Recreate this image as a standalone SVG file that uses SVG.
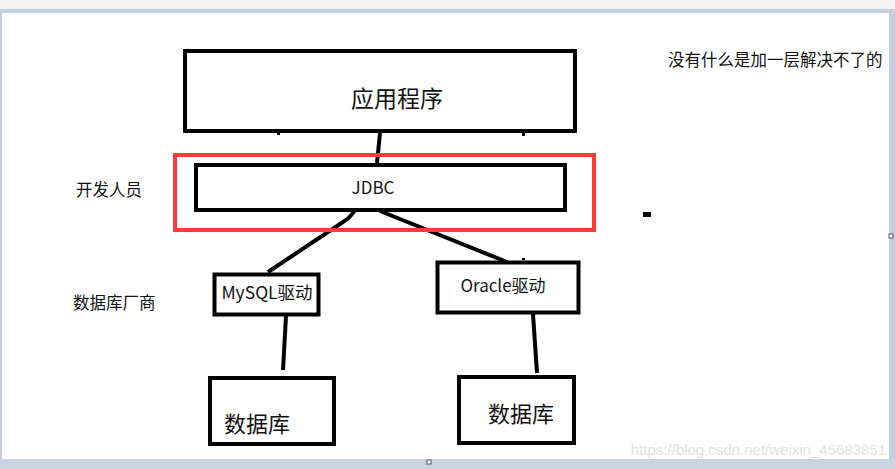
<svg xmlns="http://www.w3.org/2000/svg" width="895" height="469" viewBox="0 0 895 469">
<style>
.box{fill:#fff;stroke:#000;stroke-width:4}
.ln{fill:none;stroke:#000;stroke-width:4;stroke-linecap:butt}
.t{font-family:"Noto Sans CJK SC","Noto Sans",sans-serif;fill:#111}
</style>
<rect x="0" y="0" width="895" height="469" fill="#fff"/>
<rect x="0" y="0" width="895" height="9" fill="#f2f2f2"/>
<rect x="0" y="9" width="895" height="4" fill="#c6d0e1"/>
<rect x="0" y="9" width="2" height="460" fill="#c6d0e1"/>
<rect x="889" y="9" width="6" height="460" fill="#c2cde0"/>
<rect x="0" y="459" width="895" height="10" fill="#c9d3e4"/>
<rect x="427" y="460" width="4" height="4" fill="#fff" stroke="#555" stroke-width="1"/>
<rect x="889" y="234" width="4" height="4" fill="#fff" stroke="#555" stroke-width="1"/>

<g id="connectors">
<path class="ln" d="M380,133 L377,163"/>
<path class="ln" d="M355,210 Q350,218 343,222 L268,272"/>
<path class="ln" d="M380,211 L507,262"/>
<path class="ln" d="M286,316 L283,370"/>
<path class="ln" d="M533,314 L537,373"/>
</g>

<g id="app">
<rect class="box" x="185" y="51" width="390" height="80"/>
<text class="t" x="397" y="107" font-size="23" text-anchor="middle">应用程序</text>
<rect x="277" y="133" width="3" height="2" fill="#000"/>
<rect x="522" y="133" width="3" height="3" fill="#000"/>
</g>

<g id="jdbc-highlight">
<rect x="175" y="155" width="419" height="75" fill="none" stroke="#ff3b3b" stroke-width="4"/>
</g>

<g id="jdbc">
<rect class="box" x="196" y="165" width="369" height="45" stroke-width="3.5"/>
<text class="t" x="373" y="194" font-size="17" text-anchor="middle">JDBC</text>
</g>

<g id="mysql">
<rect class="box" x="214.5" y="274.5" width="104" height="40" stroke-width="3"/>
<text class="t" x="267" y="299" font-size="17.5" text-anchor="middle">MySQL驱动</text>
</g>

<g id="oracle">
<rect class="box" x="437.5" y="262.5" width="141" height="50" stroke-width="3"/>
<text class="t" x="503" y="292" font-size="17" text-anchor="middle">Oracle驱动</text>
<rect x="522" y="258" width="3" height="2" fill="#000"/>
</g>

<g id="db-mysql">
<rect class="box" x="210" y="378" width="124" height="66"/>
<text class="t" x="224" y="432" font-size="22">数据库</text>
</g>

<g id="db-oracle">
<rect class="box" x="459" y="377" width="115" height="66"/>
<text class="t" x="488" y="422" font-size="22">数据库</text>
</g>

<g id="labels">
<text class="t" x="76" y="196" font-size="16.5">开发人员</text>
<text class="t" x="73" y="309" font-size="16.5">数据库厂商</text>
<text class="t" x="668" y="66" font-size="16.5">没有什么是加一层解决不了的</text>
<rect x="643" y="212" width="8" height="5" fill="#000"/>
</g>

<text x="886" y="455" font-family="Liberation Sans, Arial, sans-serif" font-size="15" fill="#e2e2e2" text-anchor="end">https://blog.csdn.net/weixin_45683851</text>
</svg>
